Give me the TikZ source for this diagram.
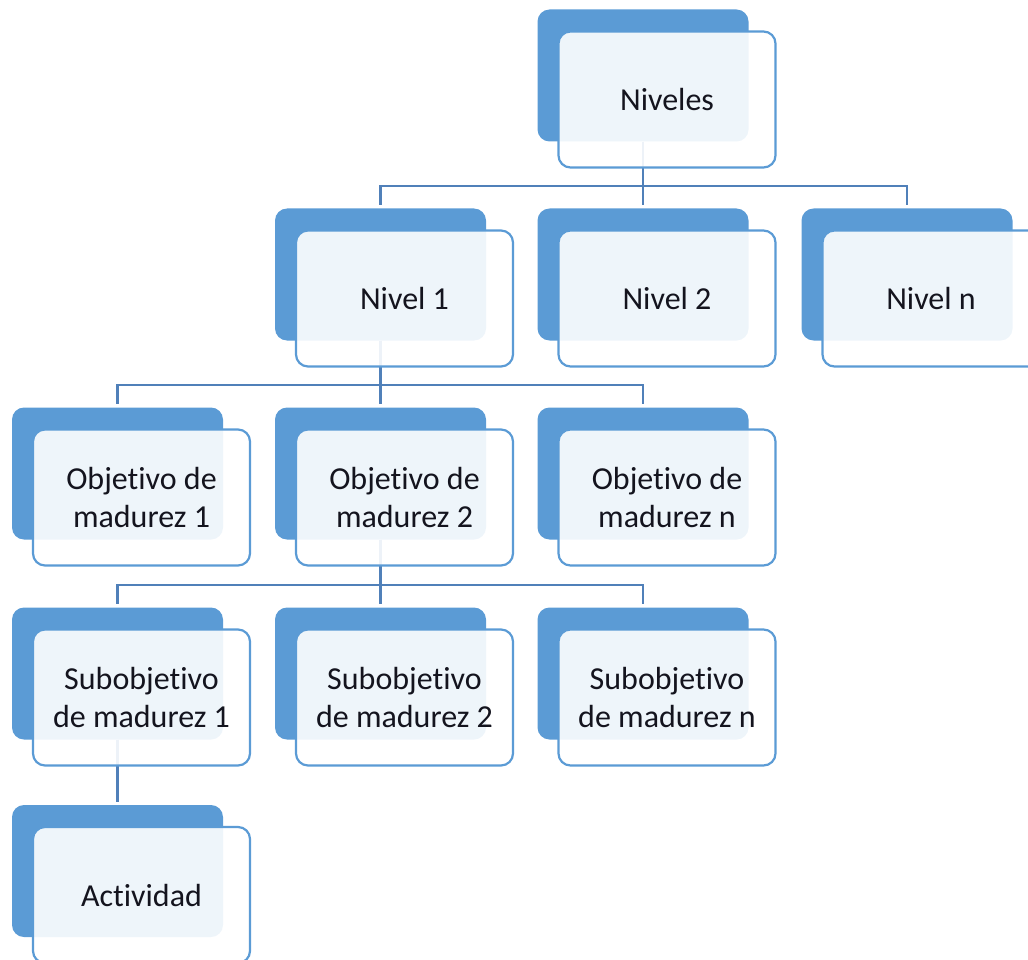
\documentclass[tikz,border=0pt]{standalone}
\usepackage{fontspec}
\setmainfont{Carlito}[Ligatures={NoCommon,NoContextual}]
\definecolor{blueA}{RGB}{91,155,213}
\definecolor{lineblue}{RGB}{80,128,185}
\definecolor{textc}{RGB}{20,20,30}
\begin{document}
\begin{tikzpicture}[x=1pt,y=-1pt,
  backbox/.style={rectangle, rounded corners=12pt, fill=blueA,
    minimum width=211pt, minimum height=132pt, inner sep=0pt},
  frontbox/.style={rectangle, rounded corners=12pt, draw=blueA, line width=2.2pt,
    fill=white, fill opacity=0.9, draw opacity=1, text opacity=1,
    minimum width=217pt, minimum height=136pt, inner sep=0pt, align=center,
    font=\fontsize{32}{38}\selectfont, text=textc},
  conn/.style={draw=lineblue, line width=2.2pt}]
\useasboundingbox (0,0) rectangle (1028,960);
\clip (0,0) rectangle (1028,960);

% back (shadow) boxes
\node[backbox] (niv) at (643,75.5) {};
\node[backbox] (n1) at (380.5,274.5) {};
\node[backbox] (n2) at (643,274.5) {};
\node[backbox] (nn) at (907,274.5) {};
\node[backbox] (o1) at (117.5,473.5) {};
\node[backbox] (o2) at (380.5,473.5) {};
\node[backbox] (on) at (643,473.5) {};
\node[backbox] (s1) at (117.5,673.5) {};
\node[backbox] (s2) at (380.5,673.5) {};
\node[backbox] (sn) at (643,673.5) {};
\node[backbox] (act) at (117.5,871) {};

% connectors
\foreach \p/\c in {niv/n1, niv/n2, niv/nn, n1/o1, n1/o2, n1/on, o2/s1, o2/s2, o2/sn}
  \draw[conn] (\p.south) |- ([yshift=22pt]\c.north) -- ([yshift=3pt]\c.north);
\draw[conn] (s1.south) -- ([yshift=3pt]act.north);

% front boxes with the labels
\node[frontbox] (nivF) at (667,99.5) {Niveles};
\node[frontbox] (n1F) at (404.5,298.5) {Nivel 1};
\node[frontbox] (n2F) at (667,298.5) {Nivel 2};
\node[frontbox] (nnF) at (931,298.5) {Nivel n};
\node[frontbox] (o1F) at (141.5,497.5) {Objetivo de\\madurez 1};
\node[frontbox] (o2F) at (404.5,497.5) {Objetivo de\\madurez 2};
\node[frontbox] (onF) at (667,497.5) {Objetivo de\\madurez n};
\node[frontbox] (s1F) at (141.5,697.5) {Subobjetivo\\de madurez 1};
\node[frontbox] (s2F) at (404.5,697.5) {Subobjetivo\\de madurez 2};
\node[frontbox] (snF) at (667,697.5) {Subobjetivo\\de madurez n};
\node[frontbox] (actF) at (141.5,895) {Actividad};
\end{tikzpicture}
\end{document}
